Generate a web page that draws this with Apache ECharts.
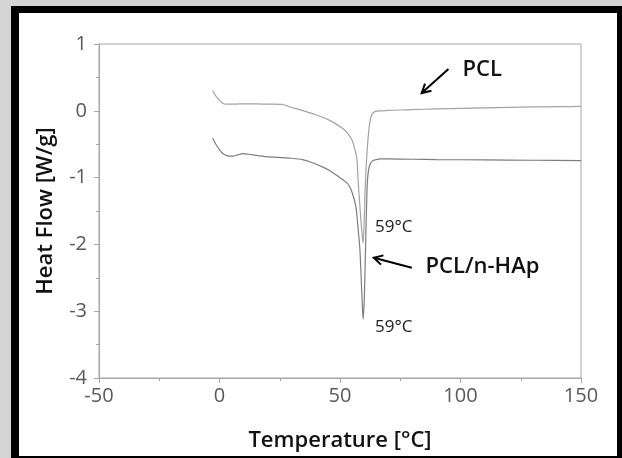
<!DOCTYPE html>
<html>
<head>
<meta charset="utf-8">
<script src="https://cdn.jsdelivr.net/npm/echarts@6/dist/echarts.min.js"></script>
<style>
html,body{margin:0;padding:0;width:622px;height:458px;overflow:hidden;background:#d4d4d4;}
#frame{position:absolute;left:11px;top:6px;width:598px;height:443px;background:#fff;border-style:solid;border-color:#000;border-width:7px 5px 2px 8px;}
#chart{position:absolute;left:0;top:0;width:622px;height:458px;}
</style>
</head>
<body>
<div id="frame"></div>
<div id="chart"></div>
<script>
// PCL curve (upper)
const pclTemp = [-2.8,-1.5,0,1.4,3,6,10,14,18,22,26,30,34,40,45.5,51,53,55,56.2,57.1,57.5,58.2,58.8,59.3,59.6,60.0,60.4,60.9,61.5,62.2,63,64,66,70,75,80,90,100,110,120,130,140,150];
const pclFlow = [0.30,0.22,0.16,0.11,0.10,0.10,0.105,0.105,0.10,0.10,0.095,0.05,0.01,-0.06,-0.14,-0.26,-0.33,-0.44,-0.58,-0.74,-1.04,-1.40,-1.70,-1.90,-1.98,-1.70,-1.20,-0.80,-0.48,-0.22,-0.07,-0.02,0.0,0.005,0.012,0.018,0.028,0.037,0.045,0.052,0.058,0.062,0.065];
// PCL/n-HAp curve (lower)
const hapTemp = [-2.8,-1.5,0,1.4,3,5.4,7.5,9.6,12,16,20.7,26,30,34.4,38,42.7,46,49.6,51.5,53.4,55,56.6,57.6,58.3,58.9,59.3,59.6,60.1,60.5,60.9,61.3,61.8,62.5,63.5,65,67,70,80,90,110,130,150];
const hapFlow = [-0.41,-0.50,-0.58,-0.64,-0.67,-0.68,-0.66,-0.64,-0.65,-0.67,-0.69,-0.70,-0.71,-0.73,-0.77,-0.84,-0.90,-0.99,-1.04,-1.10,-1.22,-1.44,-1.80,-2.10,-2.60,-2.95,-3.12,-2.80,-2.20,-1.60,-1.10,-0.90,-0.80,-0.75,-0.73,-0.72,-0.72,-0.725,-0.73,-0.735,-0.74,-0.745];
// x/y tick labels
const xTicks = [-50,0,50,100,150];
const yTicks = [-4,-3,-2,-1,0,1];
// annotations (data coords)
const annTexts = ['PCL','PCL/n-HAp','59°C','59°C'];
const annPos = [[100.8,0.61],[85.5,-2.34],[64.5,-1.74],[64.5,-3.24]];
const arrows = [[[95,0.626],[83.9,0.266]],[[79.8,-2.35],[64,-2.2]]];

const FONT = '"Open Sans", sans-serif';
const chart = echarts.init(document.getElementById('chart'), null, {renderer:'canvas'});
const toPairs = (t, v) => t.map((x, i) => [x, v[i]]);
const axisGray = '#a6a6a6';
const option = {
  backgroundColor: 'transparent',
  animation: false,
  grid: {left: 99, right: 41, top: 44, bottom: 80, show: true, borderColor: axisGray, borderWidth: 1, backgroundColor:'transparent'},
  xAxis: {
    type: 'value', min: xTicks[0], max: xTicks[xTicks.length-1], interval: 50,
    name: 'Temperature [°C]', nameLocation: 'middle', nameGap: 52,
    nameTextStyle: {fontFamily: FONT, fontSize: 22, fontWeight: 600, color: '#111'},
    axisLine: {onZero: false, lineStyle: {color: axisGray, width: 1}},
    axisTick: {show: true, length: 5, inside: false, lineStyle: {color: axisGray}},
    minorTick: {show: true, splitNumber: 2, length: 3, lineStyle: {color: axisGray}},
    axisLabel: {fontFamily: FONT, fontSize: 20, color: '#595959', margin: 8},
    splitLine: {show: false}
  },
  yAxis: {
    type: 'value', min: yTicks[0], max: yTicks[yTicks.length-1], interval: 1,
    name: 'Heat Flow [W/g]', nameLocation: 'middle', nameGap: 42,
    nameTextStyle: {fontFamily: FONT, fontSize: 22, fontWeight: 600, color: '#111'},
    axisLine: {show: true, onZero: false, lineStyle: {color: axisGray, width: 1}},
    axisTick: {show: true, length: 5, lineStyle: {color: axisGray}},
    minorTick: {show: true, splitNumber: 2, length: 3, lineStyle: {color: axisGray}},
    axisLabel: {fontFamily: FONT, fontSize: 20, color: '#595959', margin: 12},
    splitLine: {show: false}
  },
  series: [
    {type: 'line', name: 'PCL', data: toPairs(pclTemp, pclFlow), showSymbol: false, smooth: 0.2,
     lineStyle: {color: '#a3a3a3', width: 1.2}, z: 2},
    {type: 'line', name: 'PCL/n-HAp', data: toPairs(hapTemp, hapFlow), showSymbol: false, smooth: 0.2,
     lineStyle: {color: '#7d7d7d', width: 1.2}, z: 3}
  ]
};
chart.setOption(option);

function drawAnnotations() {
  const els = [];
  annTexts.forEach((t, i) => {
    const p = chart.convertToPixel({gridIndex: 0}, annPos[i]);
    const big = i < 2;
    els.push({type: 'text', x: p[0], y: p[1], style: {text: t, fontFamily: FONT,
      fontSize: big ? 22 : 17, fontWeight: big ? 600 : 400, fill: big ? '#111' : '#222',
      textAlign: 'left', textVerticalAlign: 'middle'}});
  });
  arrows.forEach(a => {
    const p0 = chart.convertToPixel({gridIndex: 0}, a[0]);
    const p1 = chart.convertToPixel({gridIndex: 0}, a[1]);
    const ang = Math.atan2(p0[1]-p1[1], p0[0]-p1[0]);
    const L = 10, w = 0.5;
    const h1 = [p1[0] + L*Math.cos(ang+w), p1[1] + L*Math.sin(ang+w)];
    const h2 = [p1[0] + L*Math.cos(ang-w), p1[1] + L*Math.sin(ang-w)];
    els.push({type: 'line', shape: {x1: p0[0], y1: p0[1], x2: p1[0], y2: p1[1]}, style: {stroke: '#000', lineWidth: 2}});
    els.push({type: 'polyline', shape: {points: [h1, p1, h2]}, style: {stroke: '#000', lineWidth: 2, fill: null, lineJoin: 'miter'}});
  });
  chart.setOption({graphic: els});
}
drawAnnotations();
</script>
</body>
</html>
